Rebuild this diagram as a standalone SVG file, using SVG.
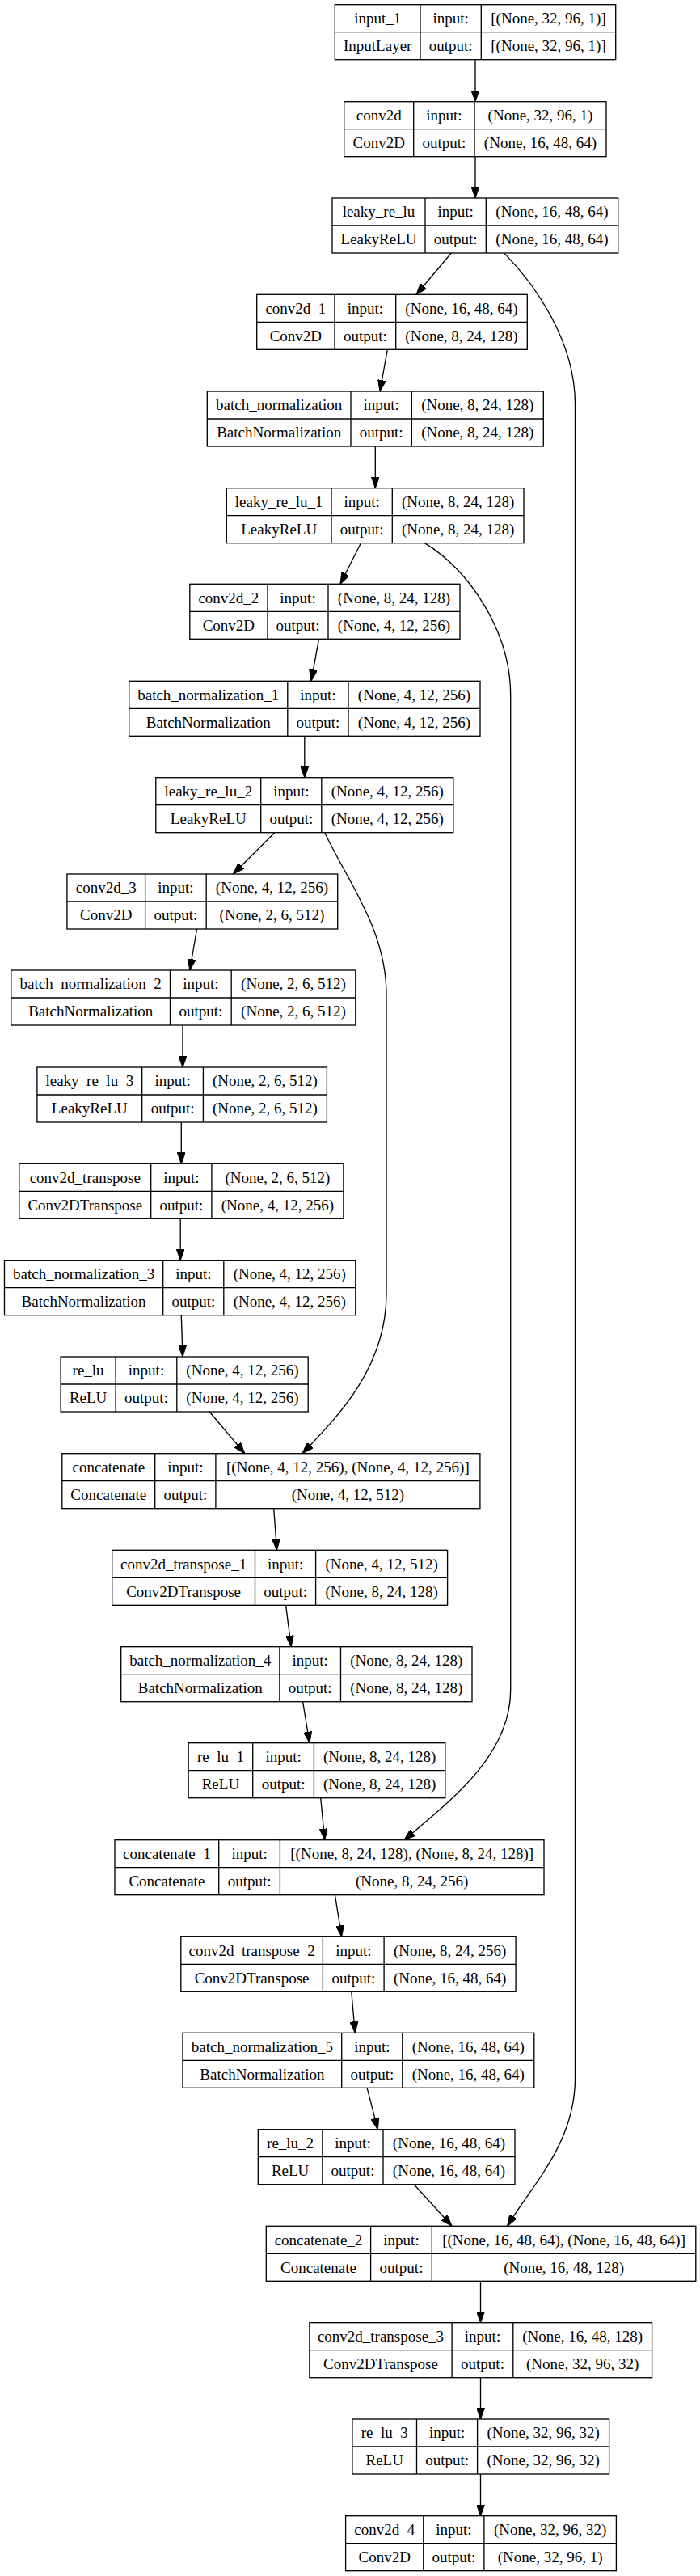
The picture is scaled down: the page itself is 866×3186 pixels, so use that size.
<svg xmlns="http://www.w3.org/2000/svg" width="866" height="3186" viewBox="0 0 866 3186">
<style>
.n rect,.n line{fill:none;stroke:#000;stroke-width:1.33}
.n text{font-family:"Liberation Serif","Times New Roman",serif;font-size:19px;text-anchor:middle;fill:#000}
.e path{fill:none;stroke:#000;stroke-width:1.33}
</style>
<defs>
<marker id="ah" markerUnits="userSpaceOnUse" markerWidth="14" markerHeight="10" viewBox="0 0 13.3 9.4" refX="13.3" refY="4.7" orient="auto"><path d="M0,0 L13.3,4.7 L0,9.4 Z" fill="#000" stroke="#000" stroke-width="1"/></marker>
</defs>
<rect width="866" height="3186" fill="#fff"/>
<g id="edges" class="e">
<path marker-end="url(#ah)" d="M588,73.7 L588,125.7"/>
<path marker-end="url(#ah)" d="M588,193.7 L588,245"/>
<path marker-end="url(#ah)" d="M558.3,313 L515,364.3"/>
<path marker-end="url(#ah)" d="M479.3,432.3 L470,484"/>
<path marker-end="url(#ah)" d="M464.3,552 L464.3,603.7"/>
<path marker-end="url(#ah)" d="M446.4,671.7 L421,722.3"/>
<path marker-end="url(#ah)" d="M394.5,790.3 L385,842.3"/>
<path marker-end="url(#ah)" d="M376.8,910.3 L376.8,961.7"/>
<path marker-end="url(#ah)" d="M339.8,1029.7 L288.4,1081"/>
<path marker-end="url(#ah)" d="M243.6,1149 L234.8,1200"/>
<path marker-end="url(#ah)" d="M226,1268 L226,1320"/>
<path marker-end="url(#ah)" d="M224.3,1388 L224.3,1439.3"/>
<path marker-end="url(#ah)" d="M223.2,1507.3 L223.2,1558.7"/>
<path marker-end="url(#ah)" d="M224.3,1626.7 L226,1678"/>
<path marker-end="url(#ah)" d="M259.1,1746 L302.8,1797.7"/>
<path marker-end="url(#ah)" d="M338.7,1865.7 L342.5,1917.3"/>
<path marker-end="url(#ah)" d="M353.6,1985.3 L360.2,2036.7"/>
<path marker-end="url(#ah)" d="M374.6,2104.7 L382.9,2155.7"/>
<path marker-end="url(#ah)" d="M396.7,2223.7 L401.7,2275.7"/>
<path marker-end="url(#ah)" d="M414.4,2343.7 L422.7,2395.3"/>
<path marker-end="url(#ah)" d="M434.8,2463.3 L439.2,2514.3"/>
<path marker-end="url(#ah)" d="M454.1,2582.3 L467.4,2633.7"/>
<path marker-end="url(#ah)" d="M512.2,2701.7 L559.1,2753.3"/>
<path marker-end="url(#ah)" d="M594.5,2821.3 L594.5,2872.7"/>
<path marker-end="url(#ah)" d="M594.5,2940.7 L594.5,2992"/>
<path marker-end="url(#ah)" d="M594.5,3060 L594.5,3111.7"/>
<path marker-end="url(#ah)" d="M624.3,313.6 C660,350 711.5,420 711.5,500 L711.5,2570 C711.5,2650 660,2700 627.6,2753.3"/>
<path marker-end="url(#ah)" d="M525,671.4 C580,705 631.7,780 631.7,860 L631.7,2090 C631.7,2170 560,2225 500,2275.7"/>
<path marker-end="url(#ah)" d="M401.7,1029.7 C430,1090 478,1150 478,1230 L478,1600 C478,1690 420,1750 374,1797.7"/>
</g>
<g id="input_1" class="n"><rect x="414.3" y="5.7" width="347.4" height="68"/><line x1="414.3" y1="39.7" x2="761.7" y2="39.7"/><line x1="520" y1="5.7" x2="520" y2="73.7"/><line x1="595.3" y1="5.7" x2="595.3" y2="73.7"/>
<text x="467.2" y="29.1">input_1</text><text x="467.2" y="63.1">InputLayer</text><text x="557.7" y="29.1">input:</text><text x="557.7" y="63.1">output:</text><text x="678.5" y="29.1">[(None, 32, 96, 1)]</text><text x="678.5" y="63.1">[(None, 32, 96, 1)]</text></g>
<g id="conv2d" class="n"><rect x="425.7" y="125.7" width="324.3" height="68"/><line x1="425.7" y1="159.7" x2="750" y2="159.7"/><line x1="511.7" y1="125.7" x2="511.7" y2="193.7"/><line x1="587" y1="125.7" x2="587" y2="193.7"/>
<text x="468.7" y="149.1">conv2d</text><text x="468.7" y="183.1">Conv2D</text><text x="549.4" y="149.1">input:</text><text x="549.4" y="183.1">output:</text><text x="668.5" y="149.1">(None, 32, 96, 1)</text><text x="668.5" y="183.1">(None, 16, 48, 64)</text></g>
<g id="leaky_re_lu" class="n"><rect x="411" y="245" width="353.7" height="68"/><line x1="411" y1="279" x2="764.7" y2="279"/><line x1="526" y1="245" x2="526" y2="313"/><line x1="601.3" y1="245" x2="601.3" y2="313"/>
<text x="468.5" y="268.4">leaky_re_lu</text><text x="468.5" y="302.4">LeakyReLU</text><text x="563.7" y="268.4">input:</text><text x="563.7" y="302.4">output:</text><text x="683" y="268.4">(None, 16, 48, 64)</text><text x="683" y="302.4">(None, 16, 48, 64)</text></g>
<g id="conv2d_1" class="n"><rect x="317.7" y="364.3" width="334.6" height="68"/><line x1="317.7" y1="398.3" x2="652.3" y2="398.3"/><line x1="414" y1="364.3" x2="414" y2="432.3"/><line x1="489.7" y1="364.3" x2="489.7" y2="432.3"/>
<text x="365.9" y="387.7">conv2d_1</text><text x="365.9" y="421.7">Conv2D</text><text x="451.9" y="387.7">input:</text><text x="451.9" y="421.7">output:</text><text x="571" y="387.7">(None, 16, 48, 64)</text><text x="571" y="421.7">(None, 8, 24, 128)</text></g>
<g id="batch_normalization" class="n"><rect x="256.3" y="484" width="416" height="68"/><line x1="256.3" y1="518" x2="672.3" y2="518"/><line x1="434" y1="484" x2="434" y2="552"/><line x1="509.3" y1="484" x2="509.3" y2="552"/>
<text x="345.2" y="507.4">batch_normalization</text><text x="345.2" y="541.4">BatchNormalization</text><text x="471.7" y="507.4">input:</text><text x="471.7" y="541.4">output:</text><text x="590.8" y="507.4">(None, 8, 24, 128)</text><text x="590.8" y="541.4">(None, 8, 24, 128)</text></g>
<g id="leaky_re_lu_1" class="n"><rect x="280.3" y="603.7" width="367.7" height="68"/><line x1="280.3" y1="637.7" x2="648" y2="637.7"/><line x1="410" y1="603.7" x2="410" y2="671.7"/><line x1="485.3" y1="603.7" x2="485.3" y2="671.7"/>
<text x="345.2" y="627.1">leaky_re_lu_1</text><text x="345.2" y="661.1">LeakyReLU</text><text x="447.7" y="627.1">input:</text><text x="447.7" y="661.1">output:</text><text x="566.7" y="627.1">(None, 8, 24, 128)</text><text x="566.7" y="661.1">(None, 8, 24, 128)</text></g>
<g id="conv2d_2" class="n"><rect x="234.8" y="722.3" width="334.2" height="68"/><line x1="234.8" y1="756.3" x2="569" y2="756.3"/><line x1="331" y1="722.3" x2="331" y2="790.3"/><line x1="406" y1="722.3" x2="406" y2="790.3"/>
<text x="282.9" y="745.7">conv2d_2</text><text x="282.9" y="779.7">Conv2D</text><text x="368.5" y="745.7">input:</text><text x="368.5" y="779.7">output:</text><text x="487.5" y="745.7">(None, 8, 24, 128)</text><text x="487.5" y="779.7">(None, 4, 12, 256)</text></g>
<g id="batch_normalization_1" class="n"><rect x="159.7" y="842.3" width="434.3" height="68"/><line x1="159.7" y1="876.3" x2="594" y2="876.3"/><line x1="355.8" y1="842.3" x2="355.8" y2="910.3"/><line x1="431" y1="842.3" x2="431" y2="910.3"/>
<text x="257.8" y="865.7">batch_normalization_1</text><text x="257.8" y="899.7">BatchNormalization</text><text x="393.4" y="865.7">input:</text><text x="393.4" y="899.7">output:</text><text x="512.5" y="865.7">(None, 4, 12, 256)</text><text x="512.5" y="899.7">(None, 4, 12, 256)</text></g>
<g id="leaky_re_lu_2" class="n"><rect x="192.8" y="961.7" width="368" height="68"/><line x1="192.8" y1="995.7" x2="560.8" y2="995.7"/><line x1="322.7" y1="961.7" x2="322.7" y2="1029.7"/><line x1="397.8" y1="961.7" x2="397.8" y2="1029.7"/>
<text x="257.8" y="985.1">leaky_re_lu_2</text><text x="257.8" y="1019.1">LeakyReLU</text><text x="360.3" y="985.1">input:</text><text x="360.3" y="1019.1">output:</text><text x="479.3" y="985.1">(None, 4, 12, 256)</text><text x="479.3" y="1019.1">(None, 4, 12, 256)</text></g>
<g id="conv2d_3" class="n"><rect x="82.9" y="1081" width="334.8" height="68"/><line x1="82.9" y1="1115" x2="417.7" y2="1115"/><line x1="179.6" y1="1081" x2="179.6" y2="1149"/><line x1="255.2" y1="1081" x2="255.2" y2="1149"/>
<text x="131.3" y="1104.4">conv2d_3</text><text x="131.3" y="1138.4">Conv2D</text><text x="217.4" y="1104.4">input:</text><text x="217.4" y="1138.4">output:</text><text x="336.5" y="1104.4">(None, 4, 12, 256)</text><text x="336.5" y="1138.4">(None, 2, 6, 512)</text></g>
<g id="batch_normalization_2" class="n"><rect x="13.8" y="1200" width="426" height="68"/><line x1="13.8" y1="1234" x2="439.8" y2="1234"/><line x1="210.5" y1="1200" x2="210.5" y2="1268"/><line x1="286.2" y1="1200" x2="286.2" y2="1268"/>
<text x="112.2" y="1223.4">batch_normalization_2</text><text x="112.2" y="1257.4">BatchNormalization</text><text x="248.4" y="1223.4">input:</text><text x="248.4" y="1257.4">output:</text><text x="363" y="1223.4">(None, 2, 6, 512)</text><text x="363" y="1257.4">(None, 2, 6, 512)</text></g>
<g id="leaky_re_lu_3" class="n"><rect x="45.9" y="1320" width="358.5" height="68"/><line x1="45.9" y1="1354" x2="404.4" y2="1354"/><line x1="175.7" y1="1320" x2="175.7" y2="1388"/><line x1="251.4" y1="1320" x2="251.4" y2="1388"/>
<text x="110.8" y="1343.4">leaky_re_lu_3</text><text x="110.8" y="1377.4">LeakyReLU</text><text x="213.6" y="1343.4">input:</text><text x="213.6" y="1377.4">output:</text><text x="327.9" y="1343.4">(None, 2, 6, 512)</text><text x="327.9" y="1377.4">(None, 2, 6, 512)</text></g>
<g id="conv2d_transpose" class="n"><rect x="23.8" y="1439.3" width="401.1" height="68"/><line x1="23.8" y1="1473.3" x2="424.9" y2="1473.3"/><line x1="186.7" y1="1439.3" x2="186.7" y2="1507.3"/><line x1="261.9" y1="1439.3" x2="261.9" y2="1507.3"/>
<text x="105.3" y="1462.7">conv2d_transpose</text><text x="105.3" y="1496.7">Conv2DTranspose</text><text x="224.3" y="1462.7">input:</text><text x="224.3" y="1496.7">output:</text><text x="343.4" y="1462.7">(None, 2, 6, 512)</text><text x="343.4" y="1496.7">(None, 4, 12, 256)</text></g>
<g id="batch_normalization_3" class="n"><rect x="5.5" y="1558.7" width="434.3" height="68"/><line x1="5.5" y1="1592.7" x2="439.8" y2="1592.7"/><line x1="201.7" y1="1558.7" x2="201.7" y2="1626.7"/><line x1="276.8" y1="1558.7" x2="276.8" y2="1626.7"/>
<text x="103.6" y="1582.1">batch_normalization_3</text><text x="103.6" y="1616.1">BatchNormalization</text><text x="239.3" y="1582.1">input:</text><text x="239.3" y="1616.1">output:</text><text x="358.3" y="1582.1">(None, 4, 12, 256)</text><text x="358.3" y="1616.1">(None, 4, 12, 256)</text></g>
<g id="re_lu" class="n"><rect x="75.1" y="1678" width="306.1" height="68"/><line x1="75.1" y1="1712" x2="381.2" y2="1712"/><line x1="143.1" y1="1678" x2="143.1" y2="1746"/><line x1="218.8" y1="1678" x2="218.8" y2="1746"/>
<text x="109.1" y="1701.4">re_lu</text><text x="109.1" y="1735.4">ReLU</text><text x="181" y="1701.4">input:</text><text x="181" y="1735.4">output:</text><text x="300" y="1701.4">(None, 4, 12, 256)</text><text x="300" y="1735.4">(None, 4, 12, 256)</text></g>
<g id="concatenate" class="n"><rect x="76.8" y="1797.7" width="517.1" height="68"/><line x1="76.8" y1="1831.7" x2="593.9" y2="1831.7"/><line x1="191.7" y1="1797.7" x2="191.7" y2="1865.7"/><line x1="266.9" y1="1797.7" x2="266.9" y2="1865.7"/>
<text x="134.3" y="1821.1">concatenate</text><text x="134.3" y="1855.1">Concatenate</text><text x="229.3" y="1821.1">input:</text><text x="229.3" y="1855.1">output:</text><text x="430.4" y="1821.1">[(None, 4, 12, 256), (None, 4, 12, 256)]</text><text x="430.4" y="1855.1">(None, 4, 12, 512)</text></g>
<g id="conv2d_transpose_1" class="n"><rect x="138.7" y="1917.3" width="414.9" height="68"/><line x1="138.7" y1="1951.3" x2="553.6" y2="1951.3"/><line x1="315.5" y1="1917.3" x2="315.5" y2="1985.3"/><line x1="390.6" y1="1917.3" x2="390.6" y2="1985.3"/>
<text x="227.1" y="1940.7">conv2d_transpose_1</text><text x="227.1" y="1974.7">Conv2DTranspose</text><text x="353.1" y="1940.7">input:</text><text x="353.1" y="1974.7">output:</text><text x="472.1" y="1940.7">(None, 4, 12, 512)</text><text x="472.1" y="1974.7">(None, 8, 24, 128)</text></g>
<g id="batch_normalization_4" class="n"><rect x="149.7" y="2036.7" width="434.3" height="68"/><line x1="149.7" y1="2070.7" x2="584" y2="2070.7"/><line x1="345.9" y1="2036.7" x2="345.9" y2="2104.7"/><line x1="421.5" y1="2036.7" x2="421.5" y2="2104.7"/>
<text x="247.8" y="2060.1">batch_normalization_4</text><text x="247.8" y="2094.1">BatchNormalization</text><text x="383.7" y="2060.1">input:</text><text x="383.7" y="2094.1">output:</text><text x="502.8" y="2060.1">(None, 8, 24, 128)</text><text x="502.8" y="2094.1">(None, 8, 24, 128)</text></g>
<g id="re_lu_1" class="n"><rect x="233.1" y="2155.7" width="317.7" height="68"/><line x1="233.1" y1="2189.7" x2="550.8" y2="2189.7"/><line x1="312.7" y1="2155.7" x2="312.7" y2="2223.7"/><line x1="388.4" y1="2155.7" x2="388.4" y2="2223.7"/>
<text x="272.9" y="2179.1">re_lu_1</text><text x="272.9" y="2213.1">ReLU</text><text x="350.6" y="2179.1">input:</text><text x="350.6" y="2213.1">output:</text><text x="469.6" y="2179.1">(None, 8, 24, 128)</text><text x="469.6" y="2213.1">(None, 8, 24, 128)</text></g>
<g id="concatenate_1" class="n"><rect x="142" y="2275.7" width="531" height="68"/><line x1="142" y1="2309.7" x2="673" y2="2309.7"/><line x1="270.7" y1="2275.7" x2="270.7" y2="2343.7"/><line x1="346.4" y1="2275.7" x2="346.4" y2="2343.7"/>
<text x="206.4" y="2299.1">concatenate_1</text><text x="206.4" y="2333.1">Concatenate</text><text x="308.6" y="2299.1">input:</text><text x="308.6" y="2333.1">output:</text><text x="509.7" y="2299.1">[(None, 8, 24, 128), (None, 8, 24, 128)]</text><text x="509.7" y="2333.1">(None, 8, 24, 256)</text></g>
<g id="conv2d_transpose_2" class="n"><rect x="223.8" y="2395.3" width="414.3" height="68"/><line x1="223.8" y1="2429.3" x2="638.1" y2="2429.3"/><line x1="399.4" y1="2395.3" x2="399.4" y2="2463.3"/><line x1="475.1" y1="2395.3" x2="475.1" y2="2463.3"/>
<text x="311.6" y="2418.7">conv2d_transpose_2</text><text x="311.6" y="2452.7">Conv2DTranspose</text><text x="437.3" y="2418.7">input:</text><text x="437.3" y="2452.7">output:</text><text x="556.6" y="2418.7">(None, 8, 24, 256)</text><text x="556.6" y="2452.7">(None, 16, 48, 64)</text></g>
<g id="batch_normalization_5" class="n"><rect x="226" y="2514.3" width="434.8" height="68"/><line x1="226" y1="2548.3" x2="660.8" y2="2548.3"/><line x1="422.7" y1="2514.3" x2="422.7" y2="2582.3"/><line x1="497.8" y1="2514.3" x2="497.8" y2="2582.3"/>
<text x="324.4" y="2537.7">batch_normalization_5</text><text x="324.4" y="2571.7">BatchNormalization</text><text x="460.3" y="2537.7">input:</text><text x="460.3" y="2571.7">output:</text><text x="579.3" y="2537.7">(None, 16, 48, 64)</text><text x="579.3" y="2571.7">(None, 16, 48, 64)</text></g>
<g id="re_lu_2" class="n"><rect x="319.3" y="2633.7" width="317.7" height="68"/><line x1="319.3" y1="2667.7" x2="637" y2="2667.7"/><line x1="398.9" y1="2633.7" x2="398.9" y2="2701.7"/><line x1="474" y1="2633.7" x2="474" y2="2701.7"/>
<text x="359.1" y="2657.1">re_lu_2</text><text x="359.1" y="2691.1">ReLU</text><text x="436.5" y="2657.1">input:</text><text x="436.5" y="2691.1">output:</text><text x="555.5" y="2657.1">(None, 16, 48, 64)</text><text x="555.5" y="2691.1">(None, 16, 48, 64)</text></g>
<g id="concatenate_2" class="n"><rect x="329.3" y="2753.3" width="531.5" height="68"/><line x1="329.3" y1="2787.3" x2="860.8" y2="2787.3"/><line x1="458.6" y1="2753.3" x2="458.6" y2="2821.3"/><line x1="534.3" y1="2753.3" x2="534.3" y2="2821.3"/>
<text x="394" y="2776.7">concatenate_2</text><text x="394" y="2810.7">Concatenate</text><text x="496.5" y="2776.7">input:</text><text x="496.5" y="2810.7">output:</text><text x="697.6" y="2776.7">[(None, 16, 48, 64), (None, 16, 48, 64)]</text><text x="697.6" y="2810.7">(None, 16, 48, 128)</text></g>
<g id="conv2d_transpose_3" class="n"><rect x="382.9" y="2872.7" width="423.7" height="68"/><line x1="382.9" y1="2906.7" x2="806.6" y2="2906.7"/><line x1="559.1" y1="2872.7" x2="559.1" y2="2940.7"/><line x1="634.8" y1="2872.7" x2="634.8" y2="2940.7"/>
<text x="471" y="2896.1">conv2d_transpose_3</text><text x="471" y="2930.1">Conv2DTranspose</text><text x="597" y="2896.1">input:</text><text x="597" y="2930.1">output:</text><text x="720.7" y="2896.1">(None, 16, 48, 128)</text><text x="720.7" y="2930.1">(None, 32, 96, 32)</text></g>
<g id="re_lu_3" class="n"><rect x="435.9" y="2992" width="317.7" height="68"/><line x1="435.9" y1="3026" x2="753.6" y2="3026"/><line x1="515.5" y1="2992" x2="515.5" y2="3060"/><line x1="590.6" y1="2992" x2="590.6" y2="3060"/>
<text x="475.7" y="3015.4">re_lu_3</text><text x="475.7" y="3049.4">ReLU</text><text x="553.1" y="3015.4">input:</text><text x="553.1" y="3049.4">output:</text><text x="672.1" y="3015.4">(None, 32, 96, 32)</text><text x="672.1" y="3049.4">(None, 32, 96, 32)</text></g>
<g id="conv2d_4" class="n"><rect x="427.6" y="3111.7" width="334.8" height="68"/><line x1="427.6" y1="3145.7" x2="762.4" y2="3145.7"/><line x1="523.8" y1="3111.7" x2="523.8" y2="3179.7"/><line x1="598.9" y1="3111.7" x2="598.9" y2="3179.7"/>
<text x="475.7" y="3135.1">conv2d_4</text><text x="475.7" y="3169.1">Conv2D</text><text x="561.4" y="3135.1">input:</text><text x="561.4" y="3169.1">output:</text><text x="680.7" y="3135.1">(None, 32, 96, 32)</text><text x="680.7" y="3169.1">(None, 32, 96, 1)</text></g>
</svg>
